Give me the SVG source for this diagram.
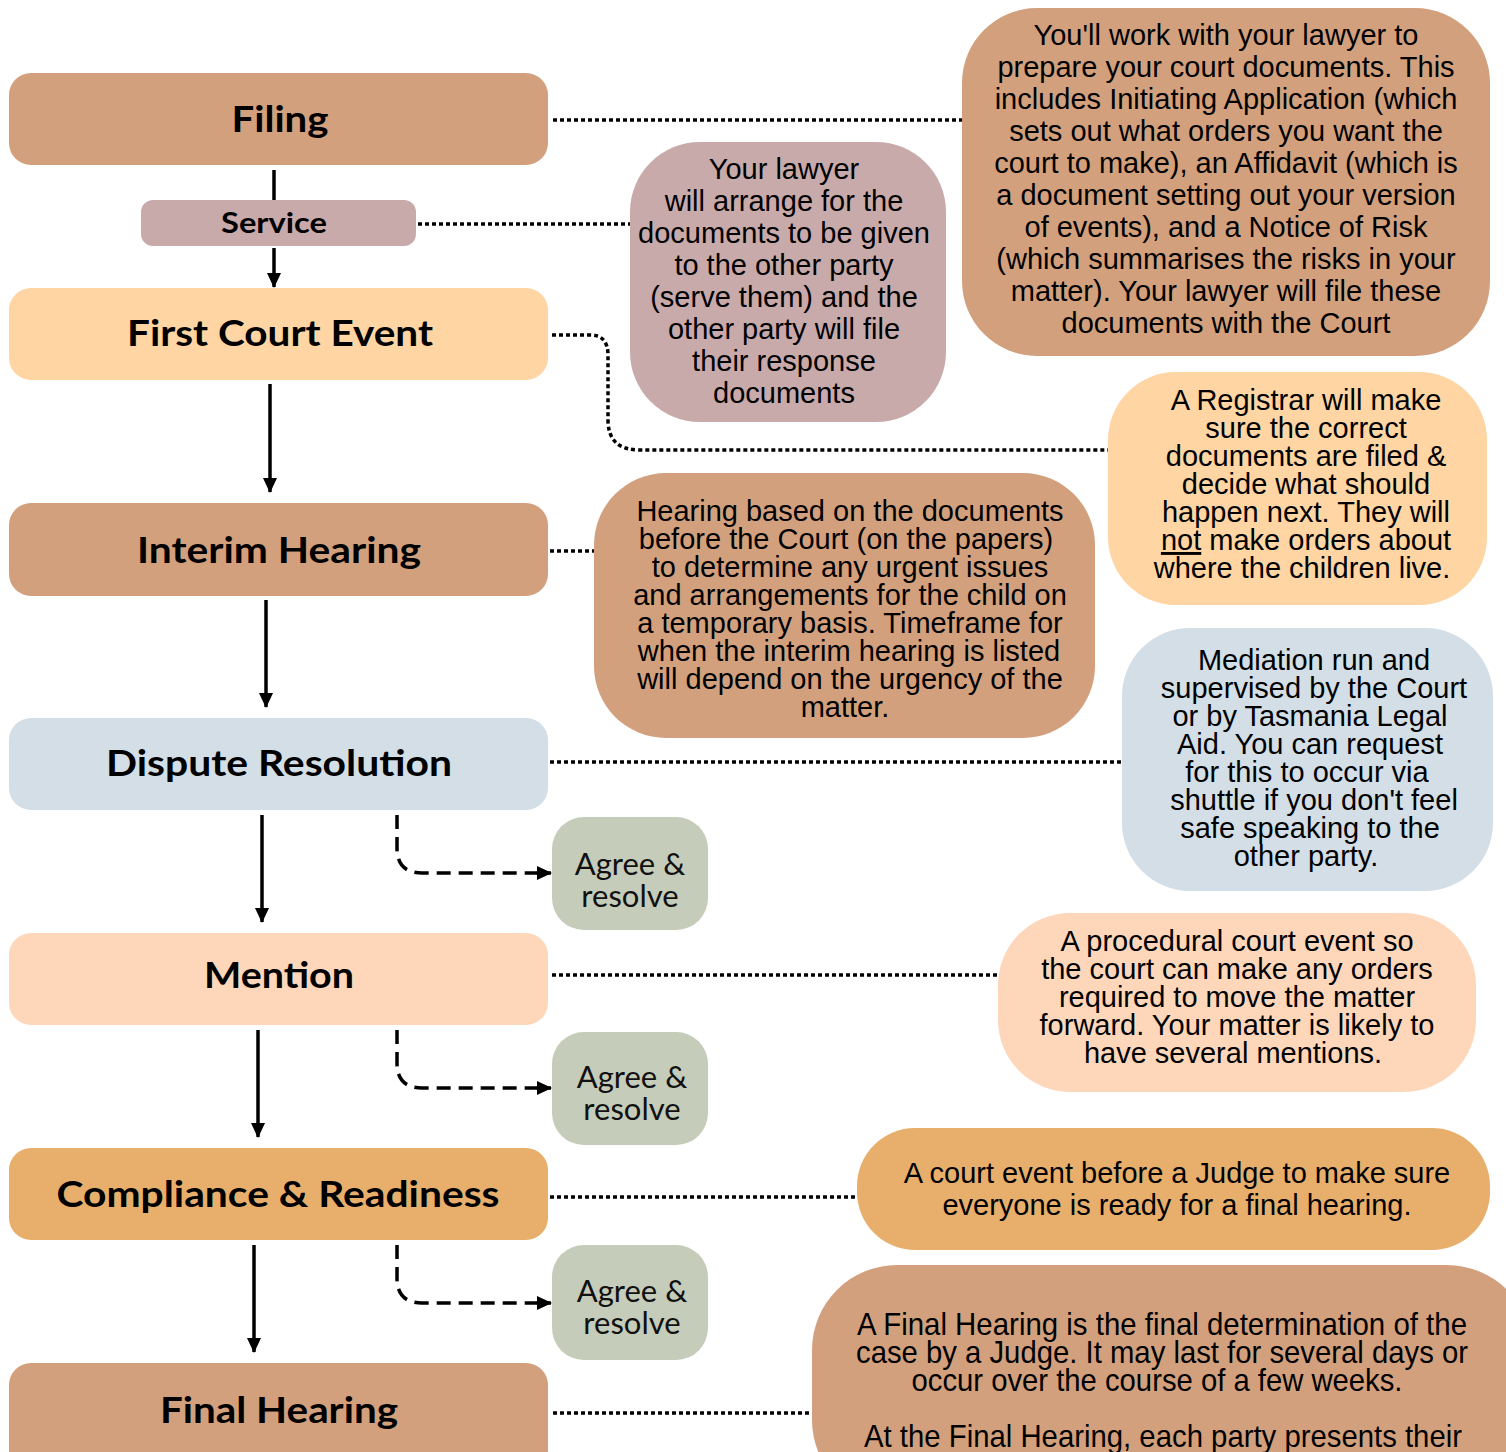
<svg xmlns="http://www.w3.org/2000/svg" width="1506" height="1452" viewBox="0 0 1506 1452">
<defs>
<marker id="ah" markerUnits="userSpaceOnUse" markerWidth="16" markerHeight="16" viewBox="0 0 16 16" refX="14" refY="8" orient="auto">
<path d="M0,1 L15,8 L0,15 Z" fill="#000"/>
</marker>
</defs>
<style>
.head{font-family:Lato,"Noto Sans",sans-serif;font-weight:700;fill:#000;text-anchor:middle}
.desc{font-family:"Liberation Sans",Arial,sans-serif;font-size:29px;fill:#000;text-anchor:middle}
.agree{font-family:Lato,"Noto Sans",sans-serif;font-size:31px;fill:#111;text-anchor:middle}
.dot{fill:none;stroke:#000;stroke-width:3.5;stroke-dasharray:4 3}
.solid{fill:none;stroke:#000;stroke-width:3.5}
.dash{fill:none;stroke:#000;stroke-width:3.5;stroke-dasharray:14 8}
.tan{fill:#D3A07D}.mauve{fill:#C9AAAB}.lorange{fill:#FED5A3}.blue{fill:#D3DEE6}.peach{fill:#FED7BB}.orange{fill:#E8AF6C}.sage{fill:#C5CCB9}
</style>
<rect width="1506" height="1452" fill="#fff"/>
<g id="connectors">
<path class="dot" d="M553 120 H962"/>
<path class="dot" d="M418 224 H630"/>
<path class="dot" d="M552 335 H590 Q608 335 608 355 V420 Q608 450 640 450 H1108"/>
<path class="dot" d="M550 551 H594"/>
<path class="dot" d="M550 762 H1122"/>
<path class="dot" d="M552 975 H998"/>
<path class="dot" d="M550 1197 H857"/>
<path class="dot" d="M553 1413 H812"/>
<path class="solid" d="M274 170 V200"/>
<path class="solid" d="M274 248 V287" marker-end="url(#ah)"/>
<path class="solid" d="M270 384 V492" marker-end="url(#ah)"/>
<path class="solid" d="M266 600 V707" marker-end="url(#ah)"/>
<path class="solid" d="M262 815 V922" marker-end="url(#ah)"/>
<path class="solid" d="M258 1030 V1137" marker-end="url(#ah)"/>
<path class="solid" d="M254 1245 V1352" marker-end="url(#ah)"/>
<path class="dash" d="M397 815 V848 Q397 873 422 873 H551" marker-end="url(#ah)"/>
<path class="dash" d="M397 1030 V1063 Q397 1088 422 1088 H551" marker-end="url(#ah)"/>
<path class="dash" d="M397 1245 V1278 Q397 1303 422 1303 H551" marker-end="url(#ah)"/>
</g>
<g id="filing"><rect class="tan" x="9" y="73" width="539" height="92" rx="22"/><text class="head" x="280" y="132" font-size="37" textLength="97" lengthAdjust="spacingAndGlyphs">Filing</text></g>
<g id="service"><rect class="mauve" x="141" y="200" width="275" height="46" rx="12"/><text class="head" x="274" y="233" font-size="28" textLength="106" lengthAdjust="spacingAndGlyphs">Service</text></g>
<g id="first-court-event"><rect class="lorange" x="9" y="288" width="539" height="92" rx="22"/><text class="head" x="280" y="346" font-size="37" textLength="306" lengthAdjust="spacingAndGlyphs">First Court Event</text></g>
<g id="interim-hearing"><rect class="tan" x="9" y="503" width="539" height="93" rx="22"/><text class="head" x="279" y="563" font-size="37" textLength="284" lengthAdjust="spacingAndGlyphs">Interim Hearing</text></g>
<g id="dispute-resolution"><rect class="blue" x="9" y="718" width="539" height="92" rx="22"/><text class="head" x="279" y="776" font-size="37" textLength="346" lengthAdjust="spacingAndGlyphs">Dispute Resolution</text></g>
<g id="mention"><rect class="peach" x="9" y="933" width="539" height="92" rx="22"/><text class="head" x="279" y="988" font-size="37" textLength="150" lengthAdjust="spacingAndGlyphs">Mention</text></g>
<g id="compliance-readiness"><rect class="orange" x="9" y="1148" width="539" height="92" rx="22"/><text class="head" x="278" y="1207" font-size="37" textLength="443" lengthAdjust="spacingAndGlyphs">Compliance &amp; Readiness</text></g>
<g id="final-hearing"><rect class="tan" x="9" y="1363" width="539" height="110" rx="22"/><text class="head" x="279" y="1423" font-size="37" textLength="238" lengthAdjust="spacingAndGlyphs">Final Hearing</text></g>
<g id="agree-1"><rect class="sage" x="552" y="817" width="156" height="113" rx="32"/><text class="agree" x="630" y="875">Agree &amp;</text><text class="agree" x="630" y="907">resolve</text></g>
<g id="agree-2"><rect class="sage" x="552" y="1032" width="156" height="113" rx="32"/><text class="agree" x="632" y="1088">Agree &amp;</text><text class="agree" x="632" y="1120">resolve</text></g>
<g id="agree-3"><rect class="sage" x="552" y="1245" width="156" height="115" rx="32"/><text class="agree" x="632" y="1302">Agree &amp;</text><text class="agree" x="632" y="1334">resolve</text></g>
<g id="filing-desc"><rect class="tan" x="962" y="8" width="528" height="348" rx="75"/>
<text class="desc" x="1226"><tspan x="1226" y="45">You'll work with your lawyer to</tspan><tspan x="1226" y="77">prepare your court documents. This</tspan><tspan x="1226" y="109">includes Initiating Application (which</tspan><tspan x="1226" y="141">sets out what orders you want the</tspan><tspan x="1226" y="173">court to make), an Affidavit (which is</tspan><tspan x="1226" y="205">a document setting out your version</tspan><tspan x="1226" y="237">of events), and a Notice of Risk</tspan><tspan x="1226" y="269">(which summarises the risks in your</tspan><tspan x="1226" y="301">matter). Your lawyer will file these</tspan><tspan x="1226" y="333">documents with the Court</tspan></text></g>
<g id="service-desc"><rect class="mauve" x="630" y="142" width="316" height="280" rx="70"/>
<text class="desc"><tspan x="784" y="179">Your lawyer</tspan><tspan x="784" y="211">will arrange for the</tspan><tspan x="784" y="243">documents to be given</tspan><tspan x="784" y="275">to the other party</tspan><tspan x="784" y="307">(serve them) and the</tspan><tspan x="784" y="339">other party will file</tspan><tspan x="784" y="371">their response</tspan><tspan x="784" y="403">documents</tspan></text></g>
<g id="first-court-desc"><rect class="lorange" x="1108" y="372" width="379" height="233" rx="68"/>
<text class="desc"><tspan x="1306" y="410">A Registrar will make</tspan><tspan x="1306" y="438">sure the correct</tspan><tspan x="1306" y="466">documents are filed &amp;</tspan><tspan x="1306" y="494">decide what should</tspan><tspan x="1306" y="522">happen next. They will</tspan></text>
<text class="desc" x="1306" y="550"><tspan text-decoration="underline">not</tspan> make orders about</text>
<text class="desc" x="1302" y="578">where the children live.</text></g>
<g id="interim-desc"><rect class="tan" x="594" y="473" width="501" height="265" rx="72"/>
<text class="desc"><tspan x="850" y="521">Hearing based on the documents</tspan><tspan x="846" y="549">before the Court (on the papers)</tspan><tspan x="850" y="577">to determine any urgent issues</tspan><tspan x="850" y="605">and arrangements for the child on</tspan><tspan x="850" y="633">a temporary basis.  Timeframe for</tspan><tspan x="849" y="661">when the interim hearing is listed</tspan><tspan x="850" y="689">will depend on the urgency of the</tspan><tspan x="845" y="717">matter.</tspan></text></g>
<g id="dispute-desc"><rect class="blue" x="1122" y="628" width="371" height="263" rx="68"/>
<text class="desc"><tspan x="1314" y="670">Mediation run and</tspan><tspan x="1314" y="698">supervised by the Court</tspan><tspan x="1310" y="726">or by Tasmania Legal</tspan><tspan x="1310" y="754">Aid. You can request</tspan><tspan x="1307" y="782">for this to occur via</tspan><tspan x="1314" y="810">shuttle if you don't feel</tspan><tspan x="1310" y="838">safe speaking to the</tspan><tspan x="1306" y="866">other party.</tspan></text></g>
<g id="mention-desc"><rect class="peach" x="998" y="913" width="478" height="179" rx="72"/>
<text class="desc"><tspan x="1237" y="951">A procedural court event so</tspan><tspan x="1237" y="979">the court can make any orders</tspan><tspan x="1237" y="1007">required to move the matter</tspan><tspan x="1237" y="1035">forward. Your matter is likely to</tspan><tspan x="1233" y="1063">have several mentions.</tspan></text></g>
<g id="compliance-desc"><rect class="orange" x="857" y="1128" width="633" height="122" rx="58"/>
<text class="desc"><tspan x="1177" y="1183">A court event before a Judge to make sure</tspan><tspan x="1177" y="1215">everyone is ready for a final hearing.</tspan></text></g>
<g id="final-desc"><rect class="tan" x="812" y="1265" width="720" height="240" rx="85"/>
<text class="desc" style="font-size:32px"><tspan x="1162" y="1335" textLength="610" lengthAdjust="spacingAndGlyphs">A Final Hearing is the final determination of the</tspan></text>
<text class="desc" style="font-size:32px"><tspan x="1162" y="1363" textLength="612" lengthAdjust="spacingAndGlyphs">case by a Judge. It may last for several days or</tspan></text>
<text class="desc" style="font-size:32px"><tspan x="1157" y="1391" textLength="491" lengthAdjust="spacingAndGlyphs">occur over the course of a few weeks.</tspan></text>
<text class="desc" style="font-size:32px"><tspan x="1163" y="1447" textLength="598" lengthAdjust="spacingAndGlyphs">At the Final Hearing, each party presents their</tspan></text></g>
</svg>
